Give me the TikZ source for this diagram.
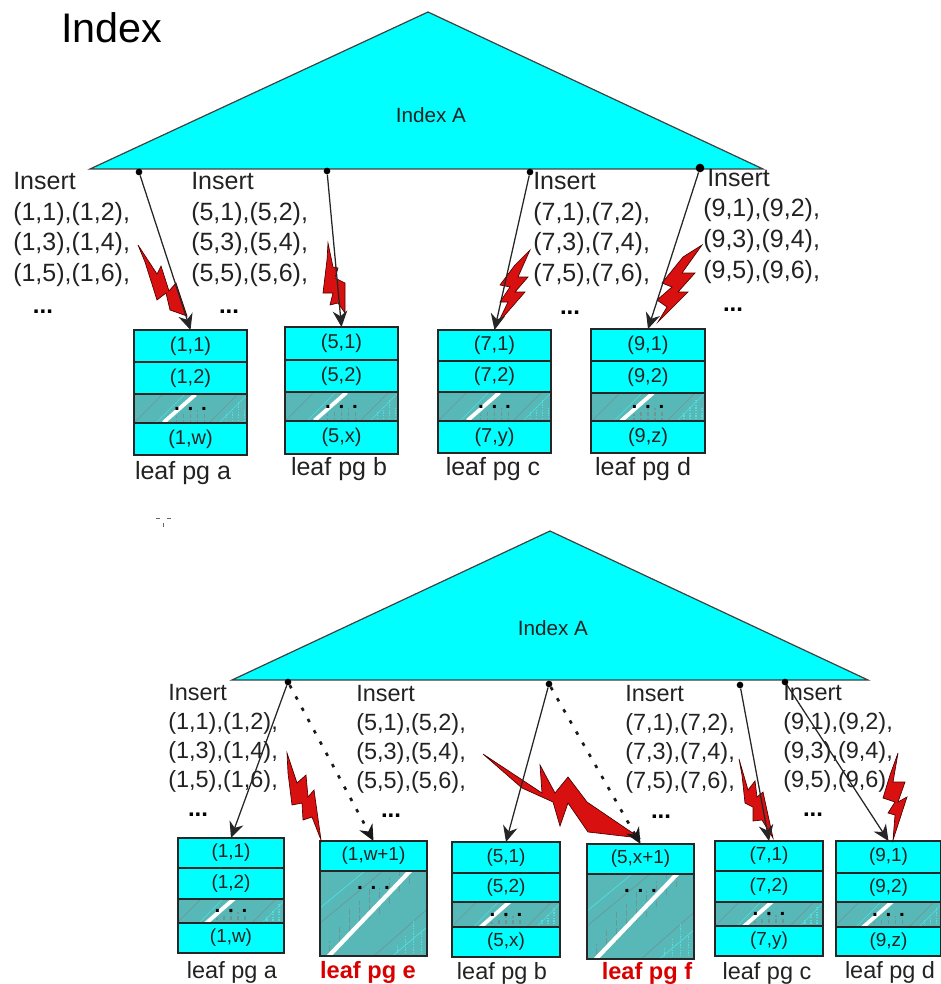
\documentclass[tikz,border=0pt]{standalone}
\usepackage{fontspec}
\setmainfont{Liberation Sans}
\usetikzlibrary{arrows.meta,calc}
\definecolor{tealhatch}{HTML}{58B8B8}
\definecolor{boltred}{HTML}{D81010}
\definecolor{idxcyan}{HTML}{00FFFF}
\definecolor{inktext}{HTML}{222222}
\definecolor{tickgray}{HTML}{6F9595}
\definecolor{tickcyan}{HTML}{4FE0E0}
\tikzset{
  x=0.75pt,y=-0.75pt,
  tri/.style={fill=idxcyan,draw=black!75,line width=0.9pt,line join=miter},
  lfbase/.style={draw=black!85,line width=1.15pt,inner sep=0pt,outer sep=0pt,text=inktext},
  topcell/.style={lfbase,fill=idxcyan,font=\fontsize{15}{17}\selectfont},
  botcell/.style={lfbase,fill=idxcyan,font=\fontsize{14.2}{17}\selectfont},
  smallhatch/.style={lfbase,fill=tealhatch,path picture={
    \begin{scope}[shift={(path picture bounding box.center)}]
      \draw[tickgray,line width=.45pt] (-57,15)--(-27,-15) (18,15)--(48,-15);
      \draw[tickcyan,line width=.5pt] (-35,15)--(-5,-15) (28,15)--(58,-15);
      \foreach \tx/\th in {-14/8,-7/12,0/16,7/14,14/10}
        \draw[tickgray,line width=1.3pt,dash pattern=on 3pt off 1.5pt] (\tx,15)--(\tx,15-\th);
      \foreach \tx/\th in {36/10,42/16,48/22,54/14}
        \draw[tickcyan,line width=1.2pt,dash pattern=on 1pt off 1pt] (\tx,15)--(\tx,15-\th);
      \draw[white,line width=2.9pt] (-27,14)--(5,-14);
    \end{scope}}},
  bighatch/.style={lfbase,fill=tealhatch,path picture={
    \begin{scope}[shift={(path picture bounding box.center)}]
      \draw[tickgray,line width=.5pt] (-54,10)--(10,-43) (-8,50)--(60,-10);
      \draw[tickcyan,line width=.5pt] (-54,-5)--(-8,-43) (10,50)--(60,8);
      \foreach \tx/\ty/\th in {-44/45/18,-34/35/22,-24/25/30,-14/15/28,-4/5/30,6/0/26,16/-10/26,26/-22/20,36/-30/12}
        \draw[tickgray,line width=1.3pt,dash pattern=on 4pt off 2pt] (\tx,\ty)--(\tx,\ty-\th);
      \foreach \tx/\th in {24/14,32/24,40/38,48/26}
        \draw[tickcyan,line width=1.2pt,dash pattern=on 1pt off 1pt] (\tx,45)--(\tx,45-\th);
      \draw[white,line width=3.2pt] (-48,46)--(37,-43);
    \end{scope}}},
  cdots/.style={inner sep=0pt,text=black,font=\fontsize{15.5}{17}\bfseries\selectfont},
  insertbox/.style={anchor=north west,inner sep=0pt,align=left,text=inktext,font=\fontsize{18.75}{22.9}\selectfont},
  insertboxb/.style={anchor=north west,inner sep=0pt,align=left,text=inktext,font=\fontsize{17.6}{21.75}\selectfont},
  moredots/.style={inner sep=0pt,text=black,font=\fontsize{18}{20}\bfseries\selectfont},
  toplabel/.style={inner sep=0pt,text=inktext,font=\fontsize{18.75}{20}\selectfont},
  botlabel/.style={inner sep=0pt,text=inktext,font=\fontsize{17.6}{20}\selectfont},
  redlabel/.style={inner sep=0pt,text=red!85!black,font=\fontsize{17.7}{20}\bfseries\selectfont},
  idxlabel/.style={inner sep=0pt,text=inktext,font=\fontsize{15.5}{18}\selectfont},
  pin/.style={circle,fill=black,inner sep=0pt,minimum size=5pt},
  bolt/.style={fill=boltred,draw=black!70!red,line width=.5pt,line join=miter},
  link/.style={draw=black!85,line width=.95pt,-{Stealth[length=12pt,width=11pt]}},
  dotlink/.style={draw=black!90,line width=2pt,dash pattern=on 2.6pt off 7pt,-{Stealth[length=12pt,width=11pt]}},
}
% one rectangular cell: style, name, x, y-top, y-bottom, width, text
\newcommand{\lfcell}[7]{%
  \pgfmathsetmacro{\cx}{#3+#6/2}\pgfmathsetmacro{\cy}{(#4+#5)/2}%
  \pgfmathsetmacro{\cw}{#6*0.75}\pgfmathsetmacro{\ch}{(#5-#4)*0.75}%
  \node[#1,minimum width=\cw pt,minimum height=\ch pt] (#2) at (\cx,\cy) {#7};}
\def\splitfive#1/#2/#3/#4/#5\relax{\def\ya{#1}\def\yb{#2}\def\yc{#3}\def\yd{#4}\def\ye{#5}}
\def\splitthree#1/#2/#3\relax{\def\ya{#1}\def\yb{#2}\def\yc{#3}}
% style, name, x, width, ys, t1, t2, t4
\newcommand{\lfpage}[8]{%
  \splitfive#5\relax
  \lfcell{smallhatch}{#2h}{#3}{\yc}{\yd}{#4}{}
  \node[cdots] at (#2h.center) {. . .};
  \lfcell{#1}{#2a}{#3}{\ya}{\yb}{#4}{#6}
  \lfcell{#1}{#2b}{#3}{\yb}{\yc}{#4}{#7}
  \lfcell{#1}{#2d}{#3}{\yd}{\ye}{#4}{#8}}
% name, x, width, ys, t1
\newcommand{\lfbig}[5]{%
  \splitthree#4\relax
  \lfcell{bighatch}{#1h}{#2}{\yb}{\yc}{#3}{}
  \node[cdots] at ($(#1h.center)+(0,-26)$) {. . .};
  \lfcell{botcell}{#1a}{#2}{\ya}{\yb}{#3}{#5}}
\begin{document}
\begin{tikzpicture}
\useasboundingbox (0,0) rectangle (941,984);

\node[inner sep=0pt,text=black,font=\fontsize{31}{34}\selectfont] (title) at (112,28) {Index};

% ---------- upper index
\coordinate (tA) at (428,12); \coordinate (tL) at (90,169); \coordinate (tR) at (763,169);
\draw[tri] (tA) -- (tL) -- (tR) -- cycle;
\node[idxlabel] (tidx) at (431,115) {Index A};

\node[insertbox] (ti1) at (13,172) {Insert\\(1,1),(1,2),\\(1,3),(1,4),\\(1,5),(1,6),};
\node[insertbox] (ti2) at (191,172) {Insert\\(5,1),(5,2),\\(5,3),(5,4),\\(5,5),(5,6),};
\node[insertbox] (ti3) at (533,172) {Insert\\(7,1),(7,2),\\(7,3),(7,4),\\(7,5),(7,6),};
\node[insertbox] (ti4) at (703,169) {\hspace{3pt}Insert\\(9,1),(9,2),\\(9,3),(9,4),\\(9,5),(9,6),};
\node[moredots] (td1) at (43,312) {...};
\node[moredots] (td2) at (229,312) {...};
\node[moredots] (td3) at (570,313) {...};
\node[moredots] (td4) at (733,310) {...};

\lfpage{topcell}{la}{134}{113}{330/362/394/423/455}{(1,1)}{(1,2)}{(1,w)}
\lfpage{topcell}{lb}{285}{113}{327/360/392/421/454}{(5,1)}{(5,2)}{(5,x)}
\lfpage{topcell}{lc}{438}{113}{330/361/392/421/453}{(7,1)}{(7,2)}{(7,y)}
\lfpage{topcell}{ld}{591}{114}{329/361/393/421/453}{(9,1)}{(9,2)}{(9,z)}

\node[toplabel] (lla) at (183,473) {leaf pg a};
\node[toplabel] (llb) at (339,469) {leaf pg b};
\node[toplabel] (llc) at (493,469) {leaf pg c};
\node[toplabel] (lld) at (643,469) {leaf pg d};

\draw[bolt] (138,245)--(157,274)--(161,266)--(169,291)--(176,283)--(187,316)--(170,310)--(166,293)--(157,300)--(145,262)--cycle;
\draw[bolt] (328,243)--(333,267)--(338,268)--(335,278)--(345,283)--(345,313)--(338,303)--(330,305)--(333,293)--(323,293)--(327,260)--cycle;
\draw[bolt] (530,250)--(518,277)--(528,277)--(515,292)--(525,292)--(498,323)--(508,302)--(500,302)--(510,287)--(500,285)--(515,265)--cycle;
\draw[bolt] (702,245)--(682,273)--(695,273)--(678,292)--(688,292)--(658,322)--(667,307)--(657,300)--(672,287)--(662,283)--(683,257)--cycle;

\node[pin] (p1) at (139,172) {};
\node[pin] (p2) at (327,171) {};
\node[pin] (p3) at (530,172) {};
\node[pin,minimum size=6.5pt] (p4) at (700,168) {};
\draw[link] (p1) -- (laa.north);
\draw[link] (p2) -- (lba.north);
\draw[link] (p3) -- (lca.north);
\draw[link] (p4) -- (lda.north);

% stray speck
\draw[black!60,line width=.7pt] (156,518)--(160,518) (167,518)--(171,518) (163,523)--(163,527);

% ---------- lower index
\coordinate (bA) at (550,531); \coordinate (bL) at (232,680); \coordinate (bR) at (868,680);
\draw[tri] (bA) -- (bL) -- (bR) -- cycle;
\node[idxlabel] (bidx) at (553,628) {Index A};

\node[insertboxb] (bi1) at (168,684) {Insert\\(1,1),(1,2),\\(1,3),(1,4),\\(1,5),(1,6),};
\node[insertboxb] (bi2) at (356,685) {Insert\\(5,1),(5,2),\\(5,3),(5,4),\\(5,5),(5,6),};
\node[insertboxb] (bi3) at (625,685) {Insert\\(7,1),(7,2),\\(7,3),(7,4),\\(7,5),(7,6),};
\node[insertboxb] (bi4) at (783,684) {Insert\\(9,1),(9,2),\\(9,3),(9,4),\\(9,5),(9,6),};
\node[moredots] (bd1) at (198,815) {...};
\node[moredots] (bd2) at (391,816) {...};
\node[moredots] (bd3) at (661,817) {...};
\node[moredots] (bd4) at (813,815) {...};

\lfpage{botcell}{ma}{178}{106}{838/868/899/923/953}{(1,1)}{(1,2)}{(1,w)}
\lfbig{me}{320}{107}{841/871/956}{(1,w+1)}
\lfpage{botcell}{mb}{452}{108}{842/873/902/927/957}{(5,1)}{(5,2)}{(5,x)}
\lfbig{mf}{587}{107}{844/874/959}{(5,x+1)}
\lfpage{botcell}{mc}{715}{108}{841/871/902/926/956}{(7,1)}{(7,2)}{(7,y)}
\lfpage{botcell}{md}{836}{105}{841/873/902/927/956}{(9,1)}{(9,2)}{(9,z)}

\node[botlabel] (nla) at (232,972) {leaf pg a};
\node[redlabel] (nle) at (368,972) {leaf pg e};
\node[botlabel] (nlb) at (502,973) {leaf pg b};
\node[redlabel] (nlf) at (647,973) {leaf pg f};
\node[botlabel] (nlc) at (767,973) {leaf pg c};
\node[botlabel] (nld) at (890,972) {leaf pg d};

\draw[bolt] (287,753)--(297,783)--(306,775)--(308,797)--(314,790)--(321,840)--(312,817)--(303,820)--(302,803)--(292,805)--(288,773)--cycle;
\draw[bolt] (483,754)--(542,793)--(540,765)--(555,793)--(568,777)--(587,802)--(640,838)--(588,832)--(568,803)--(560,826)--(553,802)--(522,788)--cycle;
\draw[bolt] (739,759)--(748,790)--(755,781)--(757,797)--(763,792)--(773,838)--(762,820)--(753,821)--(753,807)--(745,803)--(742,775)--cycle;
\draw[bolt] (898,753)--(893,782)--(905,782)--(898,802)--(907,797)--(893,840)--(895,815)--(888,813)--(895,802)--(883,798)--(890,775)--cycle;

\node[pin] (q1) at (288,682) {};
\node[pin] (q2) at (549,684) {};
\node[pin] (q3) at (740,685) {};
\node[pin] (q4) at (785,682) {};
\draw[link] (q1) -- (maa.north);
\draw[dotlink] (q1) -- (mea.north);
\draw[link] (q2) -- (mba.north);
\draw[dotlink] (q2) -- (mfa.north);
\draw[link] (q3) -- (mca.north);
\draw[link] (q4) -- (mda.north);
\end{tikzpicture}
\end{document}
